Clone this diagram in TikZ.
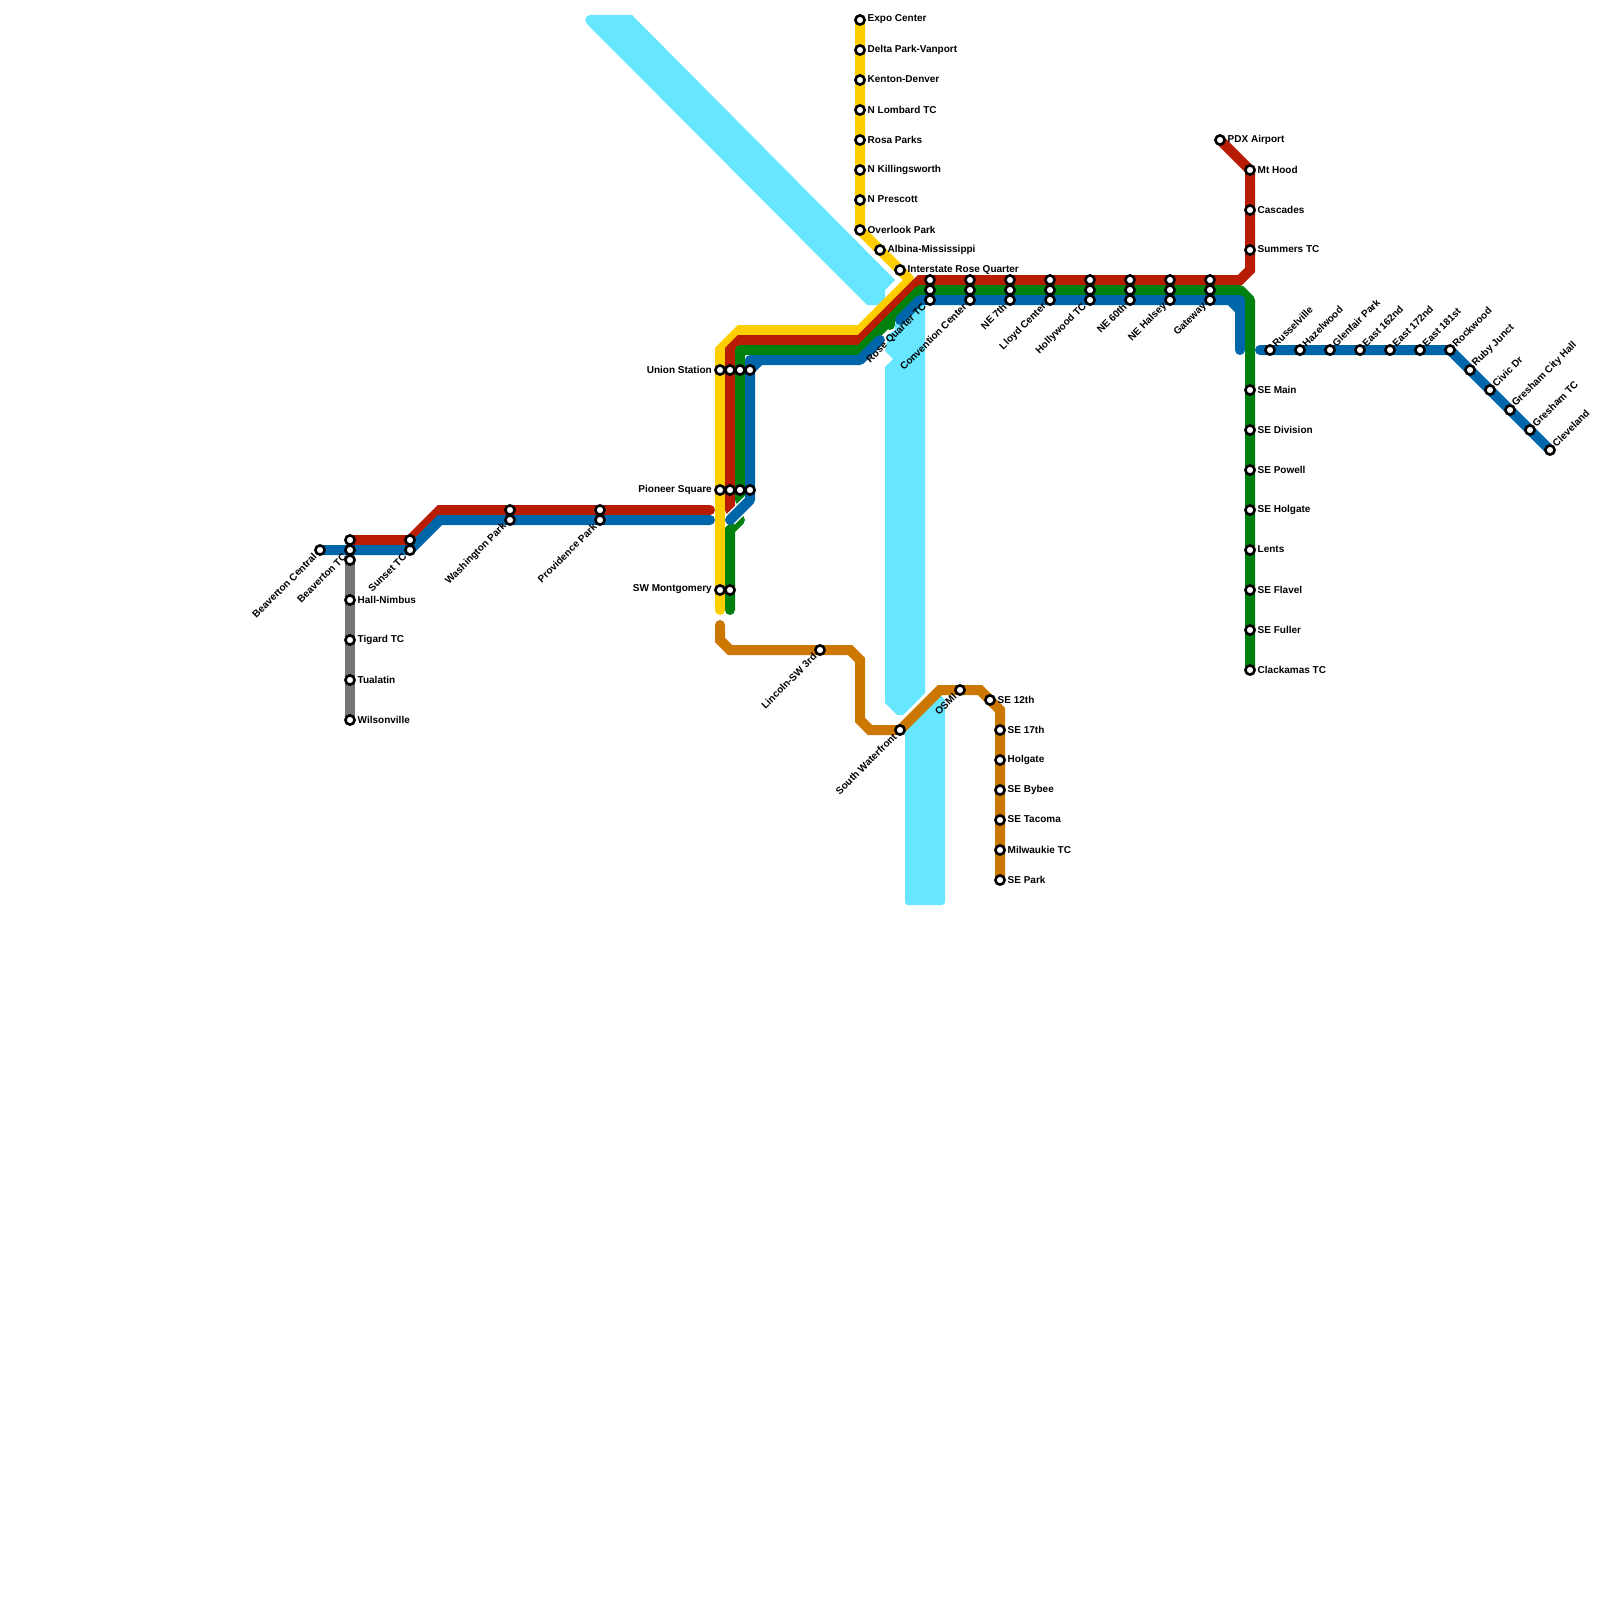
\documentclass[tikz,border=0pt]{standalone}
\usepackage{fontspec}
\setmainfont{Liberation Sans}
\pgfdeclarelayer{background}
\pgfsetlayers{background,main}
\definecolor{riverblue}{HTML}{66E6FF}
\definecolor{lineyellow}{HTML}{FFCE00}
\definecolor{linered}{HTML}{B81C04}
\definecolor{linegreen}{HTML}{00800F}
\definecolor{lineblue}{HTML}{0066AA}
\definecolor{lineorange}{HTML}{CC7700}
\definecolor{linegray}{HTML}{757575}
\tikzset{
    stn/.style={circle,draw=black,fill=white,line width=2.6pt,minimum size=9.2pt,inner sep=0pt,outer sep=0pt},
    lbl/.style={font=\bfseries\fontsize{10}{10}\selectfont,inner sep=0pt,text=black},
    lblR/.style={lbl,anchor=west,xshift=7.5pt,yshift=0.5pt},
    lblL/.style={lbl,anchor=east,xshift=-8pt,yshift=0.5pt},
    lblDL/.style={lbl,xshift=-5pt,yshift=-5pt,rotate=45,anchor=east},
    lblUR/.style={lbl,xshift=4pt,yshift=5pt,rotate=45,anchor=west},
    route/.style={line width=10pt,line cap=round,miter limit=1.2},
}
\begin{document}
\begin{tikzpicture}[x=1pt,y=-1pt]
    \useasboundingbox (0,0) rectangle (1600,1600);

    %stations with a label on the right
    \foreach \nm/\px/\py/\txt in {expo/860/20/Expo Center,delta/860/50/Delta Park-Vanport,kenton/860/80/Kenton-Denver,lombard/860/110/N Lombard TC,rosa/860/140/Rosa Parks,killing/860/170/N Killingsworth,prescott/860/200/N Prescott,overlook/860/230/Overlook Park,albina/880/250/Albina-Mississippi,interstate/900/270/Interstate Rose Quarter,
        pdx/1220/140/PDX Airport,mthood/1250/170/Mt Hood,cascades/1250/210/Cascades,summers/1250/250/Summers TC,
        semain/1250/390/SE Main,division/1250/430/SE Division,powell/1250/470/SE Powell,seholgate/1250/510/SE Holgate,lents/1250/550/Lents,flavel/1250/590/SE Flavel,fuller/1250/630/SE Fuller,clackamas/1250/670/Clackamas TC,
        twelfth/990/700/SE 12th,seventeenth/1000/730/SE 17th,holgate/1000/760/Holgate,bybee/1000/790/SE Bybee,tacoma/1000/820/SE Tacoma,milwaukie/1000/850/Milwaukie TC,separk/1000/880/SE Park,
        hall/350/600/Hall-Nimbus,tigard/350/640/Tigard TC,tualatin/350/680/Tualatin,wilsonville/350/720/Wilsonville}
    {
        \node[stn] (\nm) at (\px,\py) {};
        \node[lblR] (\nm txt) at (\px,\py) {\txt};
    }
    %stations with a label on the left
    \foreach \nm/\px/\py/\txt in {unionY/720/370/Union Station,pioneerY/720/490/Pioneer Square,montgomeryY/720/590/SW Montgomery}
    {
        \node[stn] (\nm) at (\px,\py) {};
        \node[lblL] (\nm txt) at (\px,\py) {\txt};
    }
    %stations with a slanted label going down
    \foreach \nm/\px/\py/\txt in {beavcentral/320/550/Beaverton Central,beavB/350/550/Beaverton TC,sunsetB/410/550/Sunset TC,washB/510/520/Washington Park,provB/600/520/Providence Park,lincoln/820/650/Lincoln-SW 3rd,waterfront/900/730/South Waterfront,osmi/960/690/OSMI,
        roseB/930/300/Rose Quarter TC,convB/970/300/Convention Center,seventhB/1010/300/NE 7th,lloydB/1050/300/Lloyd Center,hollyB/1090/300/Hollywood TC,sixtiethB/1130/300/NE 60th,halseyB/1170/300/NE Halsey,gatewayB/1210/300/Gateway}
    {
        \node[stn] (\nm) at (\px,\py) {};
        \node[lblDL] (\nm txt) at (\px,\py) {\txt};
    }
    %stations with a slanted label going up
    \foreach \nm/\px/\py/\txt in {russelville/1270/350/Russelville,hazelwood/1300/350/Hazelwood,glenfair/1330/350/Glenfair Park,east162/1360/350/East 162nd,east172/1390/350/East 172nd,east181/1420/350/East 181st,rockwood/1450/350/Rockwood,ruby/1470/370/Ruby Junct,civic/1490/390/Civic Dr,cityhall/1510/410/Gresham City Hall,greshamtc/1530/430/Gresham TC,cleveland/1550/450/Cleveland}
    {
        \node[stn] (\nm) at (\px,\py) {};
        \node[lblUR] (\nm txt) at (\px,\py) {\txt};
    }
    %stations that only have the circle
    \foreach \nm/\px/\py in {unionR/730/370,unionG/740/370,unionB/750/370,pioneerR/730/490,pioneerG/740/490,pioneerB/750/490,montgomeryG/730/590,
        beavR/350/540,beavX/350/560,sunsetR/410/540,washR/510/510,provR/600/510,
        roseR/930/280,roseG/930/290,convR/970/280,convG/970/290,seventhR/1010/280,seventhG/1010/290,lloydR/1050/280,lloydG/1050/290,
        hollyR/1090/280,hollyG/1090/290,sixtiethR/1130/280,sixtiethG/1130/290,halseyR/1170/280,halseyG/1170/290,gatewayR/1210/280,gatewayG/1210/290}
    {
        \node[stn] (\nm) at (\px,\py) {};
    }

    %free ends of the routes
    \coordinate (redwest) at (710,510);
    \coordinate (bluewest) at (710,520);
    \coordinate (redstub) at (730,510);
    \coordinate (greenstub) at (740,500);
    \coordinate (greenlow) at (740,520);
    \coordinate (greensouth) at (730,610);
    \coordinate (greennub) at (890,325);
    \coordinate (bluestub) at (730,520);
    \coordinate (bluemid) at (880,340);
    \coordinate (bluerose) at (900,320);
    \coordinate (blueend) at (1240,350);
    \coordinate (blueeast) at (1260,350);
    \coordinate (yellowend) at (720,610);
    \coordinate (orangetop) at (720,625);

    \begin{pgfonlayer}{background}
        %river
        \fill[riverblue] (867,305)--(587,24) [rounded corners=2pt] --(584.5,19)--(588,15) [sharp corners] --(632,15)--(895,280)--(885,290)--(885,305)--cycle; %top
        \fill[riverblue] (925,303)--(925,693)--(903,715)--(897,715)--(885,703)--(885,367)--(893,359)--(885,351)--(887,343)--(887,335)--(895,330)--(895,323)--cycle; %middle
        \fill[riverblue] (905,725)--(935,695)--(940,695)--(945,700) [rounded corners=3pt] --(945,905)--(905,905) [sharp corners] --cycle; %bottom

        %routes
        \draw[route,linegray](beavX.center)--(wilsonville.center);
        \draw[route,lineyellow](expo.center)--(overlook.center)--(910,280)--(860,330)--(740,330)--(720,350)--(yellowend);
        \draw[route,linered](beavR.center)--(sunsetR.center)--(440,510)--(redwest);
        \draw[route,linered](redstub)--(730,350)--(740,340)--(860,340)--(920,280)--(1240,280)--(1250,270)--(mthood.center)--(pdx.center);
        \draw[route,linegreen,line join=round](greenstub)--(740,350)--(860,350)--(920,290)--(1240,290)--(1250,300)--(clackamas.center);
        \draw[route,linegreen](890,320)--(greennub);
        \draw[route,linegreen](greenlow)--(730,530)--(greensouth);
        \draw[route,lineblue](beavcentral.center)--(sunsetB.center)--(440,520)--(bluewest);
        \draw[line width=13pt,white](750,500)--(bluestub); %gap round the crossing
        \draw[route,lineblue,line join=round](bluestub)--(750,500)--(750,360)--(860,360)--(bluemid);
        \draw[route,lineblue](unionB.center)--(760,360); %inner chamfer
        \draw[route,lineblue,line join=round](bluerose)--(920,300)--(1240,300)--(blueend);
        \draw[route,lineblue](1230,300)--(1240,310); %inner chamfer
        \draw[route,lineblue](blueeast)--(rockwood.center)--(cleveland.center);
        \draw[route,lineorange](orangetop)--(720,640)--(730,650)--(850,650)--(860,660)--(860,720)--(870,730)--(900,730)--(940,690)--(980,690)--(1000,710)--(separk.center);
    \end{pgfonlayer}
\end{tikzpicture}
\end{document}
